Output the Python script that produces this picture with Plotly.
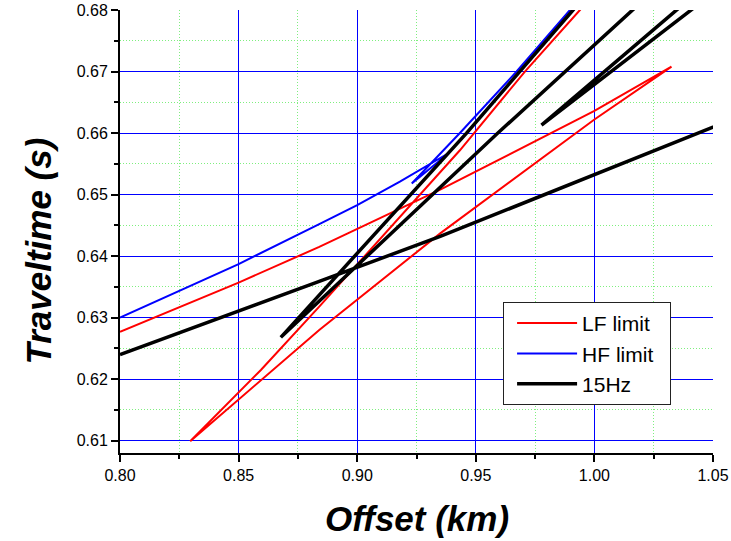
import plotly.graph_objects as go

# Picked traveltime branches (offset in km, traveltime in s).
# Each series is one picking pass, so the branches are joined in pick order;
# points beyond the frame are clipped by the axis ranges.
lf_offset = [0.800, 0.850, 0.884, 0.935, 1.000, 1.0325,
             1.000, 0.935, 0.884, 0.865, 0.8296,
             0.8594, 0.884, 0.9433, 0.9707, 0.9939, 1.002]
lf_time = [0.6277, 0.6357, 0.6415, 0.6508, 0.6636, 0.6708,
           0.6622, 0.6437, 0.6280, 0.6217, 0.6099,
           0.6215, 0.6318, 0.6572, 0.6700, 0.6800, 0.6836]

hf_offset = [0.800, 0.850, 0.884, 0.900, 0.918, 0.9388,
             0.923, 0.9433, 0.9672, 0.9896, 0.996]
hf_time = [0.6300, 0.6387, 0.6452, 0.6483, 0.6521, 0.6568,
           0.6518, 0.6600, 0.6700, 0.6800, 0.6828]

hz15_offset = [0.800, 0.850, 0.884, 0.935, 1.000, 1.036, 1.050, 1.080,
               1.060, 1.0409, 1.000, 0.9777, 1.000, 1.0346, 1.045,
               1.032, 1.0162, 1.000, 0.9593, 0.8678, 0.9461, 0.991, 1.000]
hz15_time = [0.6240, 0.6310, 0.6359, 0.6432, 0.6533, 0.6589, 0.6610, 0.6656,
             0.6857, 0.6800, 0.6679, 0.6613, 0.6686, 0.6800, 0.6834,
             0.6856, 0.6800, 0.6743, 0.6600, 0.6268, 0.6600, 0.6800, 0.6839]

series_names = ["LF limit", "HF limit", "15Hz"]

x_range = [0.80, 1.05]
y_range = [0.608, 0.68]

# trailing non-breaking spaces give the legend box some right-hand padding
pad = "\u00a0\u00a0"

fig = go.Figure()
fig.add_trace(go.Scatter(x=lf_offset, y=lf_time, mode="lines", name=series_names[0] + pad,
                         line=dict(color="#ff0000", width=2)))
fig.add_trace(go.Scatter(x=hf_offset, y=hf_time, mode="lines", name=series_names[1] + pad,
                         line=dict(color="#0000ff", width=2)))
fig.add_trace(go.Scatter(x=hz15_offset, y=hz15_time, mode="lines", name=series_names[2] + pad,
                         line=dict(color="#000000", width=3.5)))

font_family = "Liberation Sans, Arial, sans-serif"
tick_font = dict(family=font_family, size=16, color="black")
title_font = dict(family=font_family, size=35, color="black")

minor_grid = dict(ticks="outside", ticklen=4, tickwidth=1.5, tickcolor="black",
                  showgrid=True, gridcolor="#7fef7f", griddash="1px,2px", gridwidth=1)

axis_common = dict(
    showline=True, linecolor="black", linewidth=2,
    ticks="outside", ticklen=7, tickwidth=1.5, tickcolor="black",
    showgrid=True, gridcolor="#0000ff", gridwidth=1,
    zeroline=False, tickfont=tick_font, tickformat=".2f",
    mirror=False, automargin=False,
)

fig.update_xaxes(range=x_range, tick0=0.80, dtick=0.05,
                 minor=dict(dtick=0.025, **minor_grid), **axis_common)
fig.update_yaxes(range=y_range, tick0=0.61, dtick=0.01,
                 minor=dict(dtick=0.005, **minor_grid), **axis_common)

fig.update_layout(
    width=731, height=541,
    margin=dict(l=120, r=18, t=10, b=88),
    plot_bgcolor="white", paper_bgcolor="white",
    showlegend=True,
    legend=dict(x=0.646, y=0.341, xanchor="left", yanchor="top",
                bgcolor="white", bordercolor="#222222", borderwidth=1,
                font=dict(family=font_family, size=21, color="black"),
                itemwidth=60, indentation=8, tracegroupgap=0),
    annotations=[
        dict(text="<b><i>Offset (km)</i></b>", xref="paper", yref="paper",
             x=0.501, y=-0.147, xanchor="center", yanchor="middle",
             showarrow=False, font=title_font),
        dict(text="<b><i>Traveltime (s)</i></b>", xref="paper", yref="paper",
             x=-0.138, y=0.455, xanchor="center", yanchor="middle",
             textangle=-90, showarrow=False, font=title_font),
    ],
)

fig.write_html("out.html")
